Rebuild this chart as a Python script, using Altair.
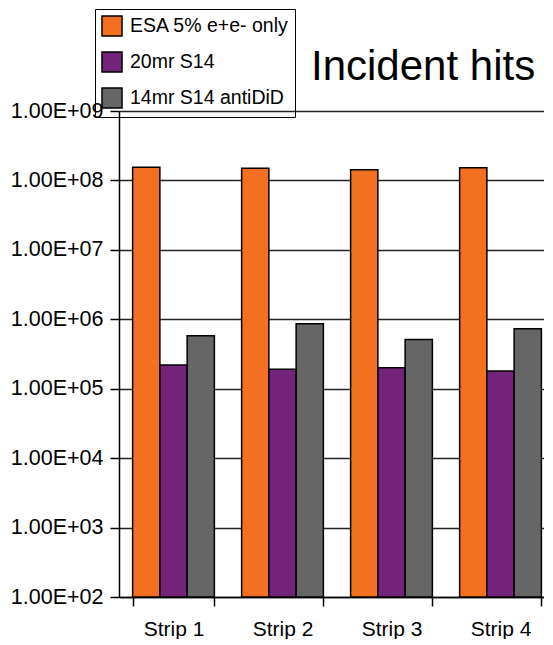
import altair as alt
import pandas as pd

strips = ["Strip 1", "Strip 2", "Strip 3", "Strip 4"]
series = ["ESA 5% e+e- only", "20mr S14", "14mr S14 antiDiD"]
colors = ["#F37021", "#74237A", "#666666"]
esa = [1.55e8, 1.50e8, 1.43e8, 1.52e8]
s20 = [2.2e5, 1.9e5, 2.0e5, 1.8e5]
s14 = [5.8e5, 8.6e5, 5.1e5, 7.3e5]
y_ticks = [1e2, 1e3, 1e4, 1e5, 1e6, 1e7, 1e8, 1e9]
y_min, y_max = 1e2, 1e9

rows = []
for i, s in enumerate(strips):
    for name, vals in zip(series, [esa, s20, s14]):
        rows.append({"strip": s, "series": name, "hits": vals[i]})
df = pd.DataFrame(rows)

FONT = "Liberation Sans"
W = 436
STEP = W / 4.0

chart = alt.Chart(df).mark_bar(stroke="black", strokeWidth=1.5).encode(
    x=alt.X("strip:N", sort=strips,
            scale=alt.Scale(paddingInner=0.25, paddingOuter=0.125),
            axis=alt.Axis(title=None, labelAngle=0, tickBand="extent",
                          tickOffset=-0.125 * STEP,
                          tickSize=9, labelPadding=12, labelFontSize=21,
                          labelFont=FONT, labelColor="black",
                          domainColor="black", domainWidth=1.5,
                          tickColor="black", tickWidth=1.5)),
    xOffset=alt.XOffset("series:N", sort=series,
                        scale=alt.Scale(paddingInner=0, paddingOuter=0)),
    y=alt.Y("hits:Q",
            scale=alt.Scale(type="log", domain=[y_min, y_max], nice=False),
            axis=alt.Axis(title=None, values=y_ticks, grid=True,
                          gridColor="#222222", gridWidth=1.5,
                          labelExpr="'1.00E+' + (round(log(datum.value)/LN10) < 10 ? '0' : '') + round(log(datum.value)/LN10)",
                          labelFontSize=21.5, labelFont=FONT, labelColor="black",
                          tickSize=9, labelPadding=7,
                          domainColor="black", domainWidth=1.5,
                          tickColor="black", tickWidth=1.5)),
    y2=alt.datum(y_min),
    color=alt.Color("series:N", sort=series,
                    scale=alt.Scale(domain=series, range=colors),
                    legend=alt.Legend(title=None, orient="none",
                                      legendX=-24, legendY=-102,
                                      strokeColor="black", padding=6,
                                      symbolType="square", symbolSize=400,
                                      symbolStrokeColor="black",
                                      symbolStrokeWidth=1.5, symbolOpacity=1,
                                      labelFontSize=19.5, labelFont=FONT,
                                      labelColor="black", labelOffset=7,
                                      labelLimit=400, rowPadding=10)),
).properties(
    width=W,
    height=486,
    padding={"top": 0, "left": 2, "right": -11, "bottom": 0},
    title=alt.TitleParams("Incident hits", anchor="start", frame="group",
                          dx=192, dy=80, fontSize=42, fontWeight="normal",
                          font=FONT, color="black", offset=0),
).configure_view(stroke=None).configure(background="white")

chart.save("out.html", embed_options={"renderer": "svg", "actions": False})
